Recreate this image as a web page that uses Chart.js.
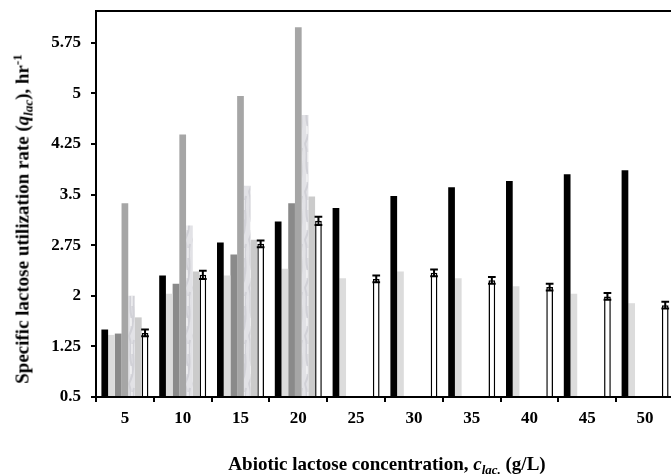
<!DOCTYPE html>
<html>
<head>
<meta charset="utf-8">
<script src="https://cdn.jsdelivr.net/npm/chart.js@4.4.0/dist/chart.umd.min.js"></script>
<style>
  html, body { margin: 0; padding: 0; background: #fff; overflow: hidden; }
  #wrap { position: relative; width: 680px; height: 475px; }
  .axis-title {
    position: absolute;
    font-family: "Liberation Serif", "Times New Roman", serif;
    font-weight: bold;
    font-size: 19px;
    line-height: 1;
    color: #000;
    white-space: nowrap;
  }
  .axis-title sub, .axis-title sup { font-size: 13px; line-height: 0; }
  .axis-title sub { vertical-align: -4px; }
  .axis-title sup { vertical-align: 7px; }
  #yTitle { left: 22px; top: 219px; transform: translate(-50%, -50%) rotate(-90deg); }
  #xTitle { left: 387px; top: 463px; transform: translate(-50%, -50%); }
</style>
</head>
<body>
<div id="wrap">
  <canvas id="myChart"></canvas>
  <div class="axis-title" id="yTitle">Specific lactose utilization rate (<i>q</i><sub><i>lac</i></sub>), hr<sup>-1</sup></div>
  <div class="axis-title" id="xTitle">Abiotic lactose concentration, <i>c</i><sub><i>lac.</i></sub> (g/L)</div>
</div>
<script>
// Concentrações (g/L) e taxas q_lac de cada série
const concentrations = ['5', '10', '15', '20', '25', '30', '35', '40', '45', '50'];
const seriesBlack  = [1.50, 2.30, 2.79, 3.10, 3.30, 3.48, 3.61, 3.70, 3.80, 3.86];
const seriesLight  = [1.42, 2.03, 2.30, 2.40, 2.26, 2.36, 2.26, 2.14, 2.03, 1.89];
const seriesDark   = [1.44, 2.18, 2.61, 3.37, null, null, null, null, null, null];
const seriesGray   = [3.37, 4.39, 4.96, 5.98, null, null, null, null, null, null];
const seriesMarble = [2.00, 3.04, 3.63, 4.68, null, null, null, null, null, null];
const seriesSilver = [1.68, 2.36, 2.83, 3.47, null, null, null, null, null, null];
const seriesWhite  = [1.45, 2.31, 2.77, 3.11, 2.25, 2.34, 2.23, 2.13, 1.99, 1.86];
const errWhite     = [0.05, 0.06, 0.05, 0.06, 0.05, 0.05, 0.05, 0.05, 0.05, 0.05];
const yTickValues  = [0.5, 1.25, 2, 2.75, 3.5, 4.25, 5, 5.75];

const ctx = document.getElementById('myChart').getContext('2d');

// Textura "mármore" para a série clara
function marblePattern() {
    const c = document.createElement('canvas');
    c.width = 8; c.height = 48;
    const g = c.getContext('2d');
    g.fillStyle = '#e2e2e6';
    g.fillRect(0, 0, 8, 48);
    g.strokeStyle = 'rgba(160,160,170,0.25)';
    g.lineWidth = 2;
    g.beginPath();
    g.moveTo(1, 0); g.bezierCurveTo(5, 10, 0, 20, 4, 30); g.bezierCurveTo(7, 38, 2, 44, 1, 48);
    g.moveTo(6, 4); g.bezierCurveTo(3, 14, 7, 22, 5, 34);
    g.stroke();
    g.fillStyle = 'rgba(255,255,255,0.45)';
    g.fillRect(3, 8, 2, 10);
    g.fillRect(2, 30, 2, 8);
    return ctx.createPattern(c, 'repeat');
}

const tickFont = { family: 'Liberation Serif', weight: 'bold', size: 17 };

// Moldura e eixos redesenhados por cima das barras
const frame = {
    id: 'frame',
    afterDatasetsDraw(chart) {
        const a = chart.chartArea;
        const c = chart.ctx;
        c.save();
        c.strokeStyle = '#000';
        c.lineWidth = 2;
        c.beginPath();
        c.moveTo(a.left - 1, a.top);
        c.lineTo(a.right, a.top);
        c.lineTo(a.right, a.bottom);
        c.moveTo(a.left, a.top);
        c.lineTo(a.left, a.bottom);
        c.moveTo(a.left - 1, a.bottom);
        c.lineTo(a.right, a.bottom);
        c.stroke();
        c.restore();
    }
};

// Barras de erro da série branca
const errorBars = {
    id: 'errorBars',
    afterDatasetsDraw(chart) {
        const meta = chart.getDatasetMeta(6);
        const y = chart.scales.y;
        const c = chart.ctx;
        c.save();
        c.strokeStyle = '#000';
        c.lineWidth = 2;
        meta.data.forEach((bar, i) => {
            const v = seriesWhite[i];
            if (v == null) return;
            const hi = y.getPixelForValue(v + errWhite[i]);
            const lo = y.getPixelForValue(v - errWhite[i]);
            const half = bar.width / 2 + 0.5;
            c.beginPath();
            c.moveTo(bar.x, hi); c.lineTo(bar.x, lo);
            c.moveTo(bar.x - half, hi); c.lineTo(bar.x + half, hi);
            c.moveTo(bar.x - half, lo); c.lineTo(bar.x + half, lo);
            c.stroke();
        });
        c.restore();
    }
};

function barSet(data, color, extra) {
    return Object.assign({
        data: data,
        backgroundColor: color,
        borderWidth: 0,
        categoryPercentage: 0.813,
        barPercentage: 1.0
    }, extra || {});
}

let myChart = new Chart(ctx, {
    type: 'bar',
    data: {
        labels: concentrations,
        datasets: [
            barSet(seriesBlack, '#000000'),
            barSet(seriesLight, '#dcdcdc'),
            barSet(seriesDark, '#8a8a8a'),
            barSet(seriesGray, '#a6a6a6'),
            barSet(seriesMarble, marblePattern()),
            barSet(seriesSilver, '#cbcbcb'),
            barSet(seriesWhite, '#ffffff', { borderColor: '#000', borderWidth: 1.5, borderSkipped: 'bottom' })
        ]
    },
    options: {
        responsive: true,
        maintainAspectRatio: false,
        animation: false,
        layout: { padding: { top: 11, right: 6, left: 0, bottom: 0 } },
        plugins: { legend: { display: false }, tooltip: { enabled: false } },
        scales: {
            x: {
                grid: { drawOnChartArea: false, offset: true, tickLength: 5, color: '#000', lineWidth: 2 },
                border: { color: '#000', width: 2 },
                ticks: { color: '#000', font: tickFont, padding: 6, maxRotation: 0 },
                afterFit(s) { s.height = 78; s.paddingLeft = 0; s.paddingRight = 0; }
            },
            y: {
                min: 0.5,
                max: 6.22,
                grid: { drawOnChartArea: false, tickLength: 5, color: '#000', lineWidth: 2 },
                border: { color: '#000', width: 2 },
                ticks: {
                    color: '#000',
                    font: tickFont,
                    padding: 10,
                    callback: v => String(+v.toFixed(2))
                },
                afterBuildTicks(s) { s.ticks = yTickValues.map(v => ({ value: v })); },
                afterFit(s) { s.width = 96; s.paddingTop = 0; s.paddingBottom = 0; }
            }
        }
    },
    plugins: [frame, errorBars]
});
</script>
</body>
</html>
